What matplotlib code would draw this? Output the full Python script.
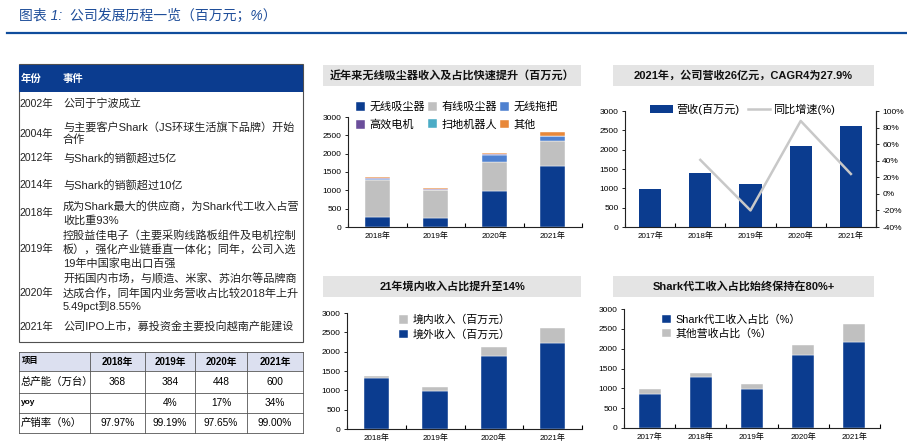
import numpy as np
import matplotlib
matplotlib.use('Agg')
import matplotlib.pyplot as plt
from matplotlib.patches import Rectangle
from matplotlib.lines import Line2D

plt.rcParams['font.family'] = ['Liberation Sans', 'Noto Sans CJK SC']
plt.rcParams['axes.unicode_minus'] = False

# ---------------- data ----------------
TITLE = '图表 1:  公司发展历程一览（百万元；%）'

events_years = ['2002年', '2004年', '2012年', '2014年', '2018年', '2019年', '2020年', '2021年']
events_text = [
    ['公司于宁波成立'],
    ['与主要客户Shark（JS环球生活旗下品牌）开始', '合作'],
    ['与Shark的销额超过5亿'],
    ['与Shark的销额超过10亿'],
    ['成为Shark最大的供应商，为Shark代工收入占营', '收比重93%'],
    ['控股益佳电子（主要采购线路板组件及电机控制', '板），强化产业链垂直一体化；同年，公司入选', '19年中国家电出口百强'],
    ['开拓国内市场，与顺造、米家、苏泊尔等品牌商', '达成合作，同年国内业务营收占比较2018年上升', '5.49pct到8.55%'],
    ['公司IPO上市，募投资金主要投向越南产能建设'],
]

cap_header = ['项目', '2018年', '2019年', '2020年', '2021年']
cap_rows = [
    ['总产能（万台）', '368', '384', '448', '600'],
    ['yoy', '', '4%', '17%', '34%'],
    ['产销率（%）', '97.97%', '99.19%', '97.65%', '99.00%'],
]

# chart 1: product mix
c1_years = ['2018年', '2019年', '2020年', '2021年']
c1_names = ['无线吸尘器', '有线吸尘器', '无线拖把', '高效电机', '扫地机器人', '其他']
c1_wireless = [285, 255, 985, 1670]
c1_wired = [1010, 745, 790, 665]
c1_mop = [5, 20, 180, 145]
c1_motor = [35, 25, 35, 12]
c1_robot = [0, 0, 0, 0]
c1_other = [30, 25, 35, 100]

# chart 2: revenue and growth
c2_years = ['2017年', '2018年', '2019年', '2020年', '2021年']
c2_revenue = [991, 1397, 1121, 2103, 2612]
c2_growth = [np.nan, 41, -20, 88, 24]

# chart 3: domestic / overseas
c3_years = ['2018年', '2019年', '2020年', '2021年']
c3_overseas = [1311, 994, 1894, 2220]
c3_domestic = [69, 95, 215, 394]

# chart 4: Shark OEM share
c4_years = ['2017年', '2018年', '2019年', '2020年', '2021年']
c4_shark = [866, 1277, 975, 1832, 2168]
c4_other = [126, 118, 143, 269, 454]

NAVY = '#0B3C8F'
GRAY = '#C0C0C0'
C1_COLORS = [NAVY, GRAY, '#4F81D0', '#6B4E9B', '#4BACC6', '#E8883A']
BOX = '#E4E4E4'

W, H = 907, 446
fig = plt.figure(figsize=(W / 100, H / 100), dpi=100, facecolor='white')

# overlay axes in pixel coordinates for tables/title boxes
ov = fig.add_axes([0, 0, 1, 1])
ov.set_xlim(0, W)
ov.set_ylim(H, 0)
ov.axis('off')

ov.text(19, 16, TITLE, color='#1F4E9A', fontsize=10, va='center', ha='left', style='italic')
ov.add_line(Line2D([7, W], [32.5, 32.5], color='#0F4C9C', lw=1.6))

# ---------------- top table ----------------
ov.add_patch(Rectangle((19, 64), 284, 278, fill=False, ec='#505050', lw=0.8))
ov.add_patch(Rectangle((19, 65), 284, 27, fc=NAVY, ec='none'))
ov.text(21, 78.5, '年份', color='white', fontsize=7.5, fontweight='bold', va='center')
ov.text(63, 78.5, '事件', color='white', fontsize=7.5, fontweight='bold', va='center')

row_lines_y = [[104], [127, 140], [158], [185], [206, 220], [235, 249, 263], [279, 293, 307], [327]]
for yr, lines, ys in zip(events_years, events_text, row_lines_y):
    ov.text(19.5, np.mean(ys), yr, fontsize=7.5, va='center', ha='left', color='#222222')
    for ln, yy in zip(lines, ys):
        ov.text(63, yy, ln, fontsize=8, va='center', ha='left', color='#222222')

# ---------------- bottom table ----------------
col_x = [19, 90, 145, 195, 247, 303]
row_y = [352, 371, 393, 413, 433]
ov.add_patch(Rectangle((19, 352), 284, 19, fc='#DCE0F0', ec='none'))
for x in col_x:
    ov.add_line(Line2D([x, x], [row_y[0], row_y[-1]], color='#555555', lw=0.6))
for y in row_y:
    ov.add_line(Line2D([col_x[0], col_x[-1]], [y, y], color='#555555', lw=0.6))
ov.text(22, 361.5, cap_header[0], fontsize=6, fontweight='bold', va='center')
for j, h in enumerate(cap_header[1:]):
    ov.text((col_x[j + 1] + col_x[j + 2]) / 2, 361.5, h, fontsize=7, fontweight='bold',
            va='center', ha='center')
for i, row in enumerate(cap_rows):
    yc = (row_y[i + 1] + row_y[i + 2]) / 2
    ov.text(21, yc, row[0], fontsize=7.5 if i != 1 else 6, va='center', ha='left',
            fontweight='bold' if i == 1 else 'normal')
    for j, v in enumerate(row[1:]):
        ov.text((col_x[j + 1] + col_x[j + 2]) / 2, yc, v, fontsize=7.3, va='center', ha='center')

# ---------------- chart helpers ----------------
def px_axes(l, t, r, b):
    a = fig.add_axes([l / W, 1 - b / H, (r - l) / W, (b - t) / H])
    a.set_facecolor('none')
    return a


def title_box(l, t, r, b, text):
    ov.add_patch(Rectangle((l, t), r - l, b - t, fc=BOX, ec='none'))
    ov.text((l + r) / 2, (t + b) / 2, text, fontsize=8, fontweight='bold', ha='center',
            va='center', color='#111111')


def style_axes(a, labels):
    n = len(labels)
    a.set_xlim(-0.5, n - 0.5)
    a.set_ylim(0, 3000)
    a.set_yticks(range(0, 3001, 500))
    a.set_xticks(range(n))
    a.set_xticklabels(labels, fontsize=5.8)
    a.set_xticks(np.arange(-0.5, n, 1.0), minor=True)
    a.tick_params(axis='x', which='major', length=0, pad=4)
    a.tick_params(axis='x', which='minor', direction='in', length=3, width=0.8)
    a.tick_params(axis='y', labelsize=6, length=2.5, width=0.6, pad=2)
    for s in ['top', 'right']:
        a.spines[s].set_visible(False)
    for s in ['left', 'bottom']:
        a.spines[s].set_linewidth(0.8)
        a.spines[s].set_color('#222222')


# ---------------- chart 1 ----------------
title_box(323, 65, 581, 86, '近年来无线吸尘器收入及占比快速提升（百万元）')
ax1 = px_axes(348, 117, 582, 227)
x1 = np.arange(len(c1_years))
bottom = np.zeros(len(x1))
handles = []
for name, vals, col in zip(c1_names, [c1_wireless, c1_wired, c1_mop, c1_motor, c1_robot, c1_other],
                           C1_COLORS):
    b = ax1.bar(x1, vals, 0.43, bottom=bottom, color=col, edgecolor='white', linewidth=0.3, label=name)
    bottom += np.array(vals)
    handles.append(b)
style_axes(ax1, c1_years)
order = [0, 3, 1, 4, 2, 5]
ax1.legend([handles[i] for i in order], [c1_names[i] for i in order], ncol=3, frameon=False,
           loc='upper left', bbox_to_anchor=(0.0, 1.21), fontsize=8, handlelength=0.8,
           handleheight=0.8, handletextpad=0.4, columnspacing=0.3, labelspacing=0.65,
           borderpad=0.2)

# ---------------- chart 2 ----------------
title_box(613, 65, 874, 86, '2021年，公司营收26亿元，CAGR4为27.9%')
ax2 = px_axes(625, 111, 876, 227)
x2 = np.arange(len(c2_years))
bars2 = ax2.bar(x2, c2_revenue, 0.44, color=NAVY, label='营收(百万元)')
style_axes(ax2, c2_years)
ax2.spines['right'].set_visible(True)
ax2.spines['right'].set_linewidth(0.8)
ax2.spines['right'].set_color('#222222')
ax2r = ax2.twinx()
ax2r.plot(x2, c2_growth, color='#C8C8C8', lw=1.8, label='同比增速(%)')
ax2r.set_ylim(-40, 100)
ax2r.set_yticks(range(-40, 101, 20))
ax2r.set_yticklabels([f'{v}%' for v in range(-40, 101, 20)])
ax2r.tick_params(axis='y', labelsize=6, length=2.5, width=0.6, pad=2)
for s in ['top', 'left', 'bottom']:
    ax2r.spines[s].set_visible(False)
ax2r.spines['right'].set_linewidth(0.8)
ax2r.spines['right'].set_color('#222222')
ax2r.legend([bars2, Line2D([], [], color='#C8C8C8', lw=1.8)], ['营收(百万元)', '同比增速(%)'],
            ncol=2, frameon=False, loc='upper left', bbox_to_anchor=(0.07, 1.13), fontsize=8,
            handlelength=2.0, handleheight=0.8, handletextpad=0.3, columnspacing=0.8,
            borderpad=0.2)

# ---------------- chart 3 ----------------
title_box(323, 276, 581, 297, '21年境内收入占比提升至14%')
ax3 = px_axes(347, 313, 582, 429)
x3 = np.arange(len(c3_years))
b3a = ax3.bar(x3, c3_overseas, 0.43, color=NAVY, edgecolor='white', linewidth=0.3)
b3b = ax3.bar(x3, c3_domestic, 0.43, bottom=c3_overseas, color=GRAY, edgecolor='white', linewidth=0.3)
style_axes(ax3, c3_years)
ax3.legend([b3b, b3a], ['境内收入（百万元）', '境外收入（百万元）'], frameon=False,
           loc='upper left', bbox_to_anchor=(0.19, 1.05), fontsize=7.8, handlelength=0.8,
           handleheight=0.8, handletextpad=0.4, labelspacing=0.35, borderpad=0.2)

# ---------------- chart 4 ----------------
title_box(613, 276, 874, 297, 'Shark代工收入占比始终保持在80%+')
ax4 = px_axes(624, 309, 880, 428)
x4 = np.arange(len(c4_years))
b4a = ax4.bar(x4, c4_shark, 0.43, color=NAVY, edgecolor='white', linewidth=0.3)
b4b = ax4.bar(x4, c4_other, 0.43, bottom=c4_shark, color=GRAY, edgecolor='white', linewidth=0.3)
style_axes(ax4, c4_years)
ax4.legend([b4a, b4b], ['Shark代工收入占比（%）', '其他营收占比（%）'], frameon=False,
           loc='upper left', bbox_to_anchor=(0.12, 1.02), fontsize=7.8, handlelength=0.8,
           handleheight=0.8, handletextpad=0.4, labelspacing=0.35, borderpad=0.2)

fig.savefig('out.png', dpi=100, facecolor='white')
